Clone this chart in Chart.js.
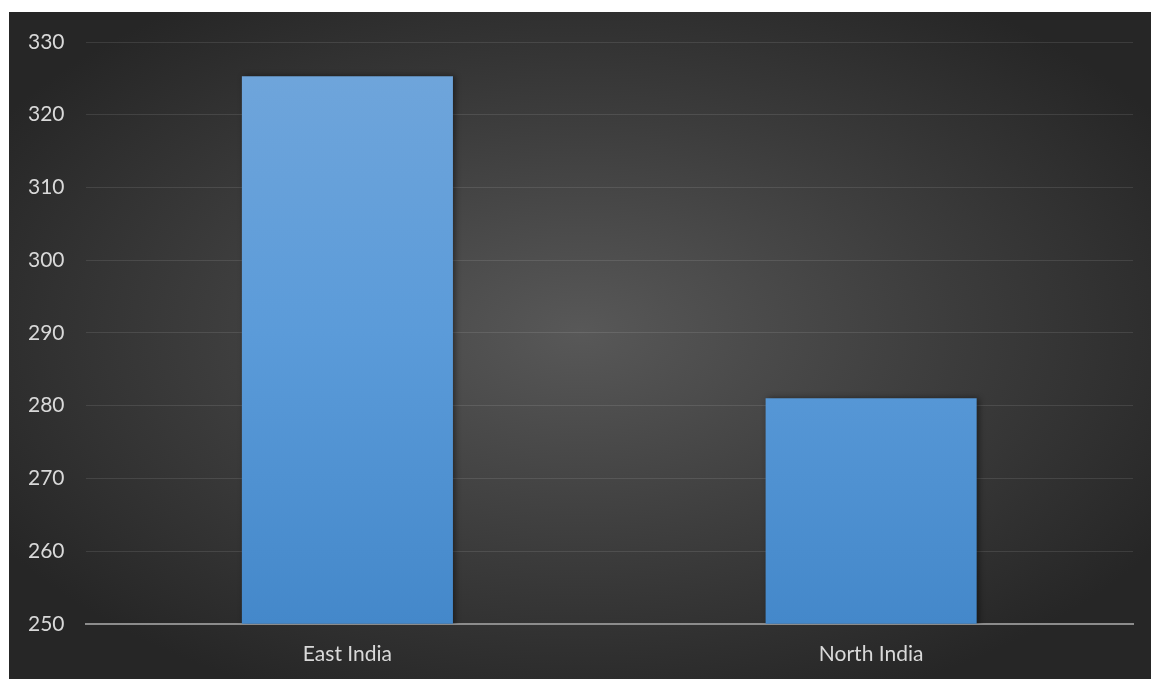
<!DOCTYPE html>
<html>
<head>
<meta charset="utf-8">
<script src="https://cdn.jsdelivr.net/npm/chart.js@4.4.1/dist/chart.umd.min.js"></script>
<style>
  html, body { margin: 0; padding: 0; background: #ffffff; }
  #wrap {
    position: absolute; left: 9px; top: 12px; width: 1142px; height: 667px;
    background: radial-gradient(ellipse 60% 60% at 50% 48%, #585858 0%, #3c3c3c 55%, #262626 100%);
  }
</style>
</head>
<body>
<div id="wrap"><canvas id="myChart" width="1142" height="667"></canvas></div>
<script>
const regions = ["East India", "North India"];
const amounts = [325.3, 281.0];
const yMin = 250, yMax = 330, yStep = 10;

// soft drop shadow behind the bars
const barShadow = {
  id: "barShadow",
  beforeDatasetsDraw(chart) {
    const c = chart.ctx;
    c.save();
    c.shadowColor = "rgba(0,0,0,0.45)";
    c.shadowBlur = 6;
    c.shadowOffsetX = 2;
    c.shadowOffsetY = 0;
  },
  afterDatasetsDraw(chart) {
    chart.ctx.restore();
  }
};

function barFill(context) {
  const area = context.chart.chartArea;
  if (!area) return "#5b9bd5";
  const bar = context.element;
  const top = bar && bar.y != null ? bar.y : area.top;
  const g = context.chart.ctx.createLinearGradient(0, top, 0, area.bottom);
  g.addColorStop(0, "#71a6db");
  g.addColorStop(0.5, "#5b9bd9");
  g.addColorStop(1, "#4488ca");
  return g;
}

const yPad = 21, xPad = 18;

function draw() {
  new Chart("myChart", {
    type: "bar",
    data: {
      labels: regions,
      datasets: [{
        data: amounts,
        backgroundColor: barFill,
        borderWidth: 0,
        barPercentage: 0.403,
        categoryPercentage: 1
      }]
    },
    plugins: [barShadow],
    options: {
      responsive: false,
      animation: false,
      layout: { padding: { left: 19, right: 18, top: 30, bottom: 12 } },
      plugins: { legend: { display: false }, tooltip: { enabled: false } },
      scales: {
        x: {
          grid: { display: false, drawTicks: false },
          border: { display: true, color: "#8c8c8c", width: 2 },
          ticks: { color: "#d9d9d9", padding: xPad, font: { family: "Lato", size: 21 } },
          afterFit(scale) { scale.height -= xPad; }   // chart.js counts padding twice
        },
        y: {
          min: yMin,
          max: yMax,
          grid: { color: "rgba(255,255,255,0.1)", lineWidth: 1, drawTicks: false },
          border: { display: false },
          ticks: { stepSize: yStep, color: "#d9d9d9", padding: yPad, font: { family: "Lato", size: 21 } },
          afterFit(scale) {
            scale.width -= yPad;
            scale.paddingTop = 0;   // top label overhang is covered by layout padding
          }
        }
      }
    }
  });
}

document.fonts.load("21px Lato").then(draw, draw);
</script>
</body>
</html>
